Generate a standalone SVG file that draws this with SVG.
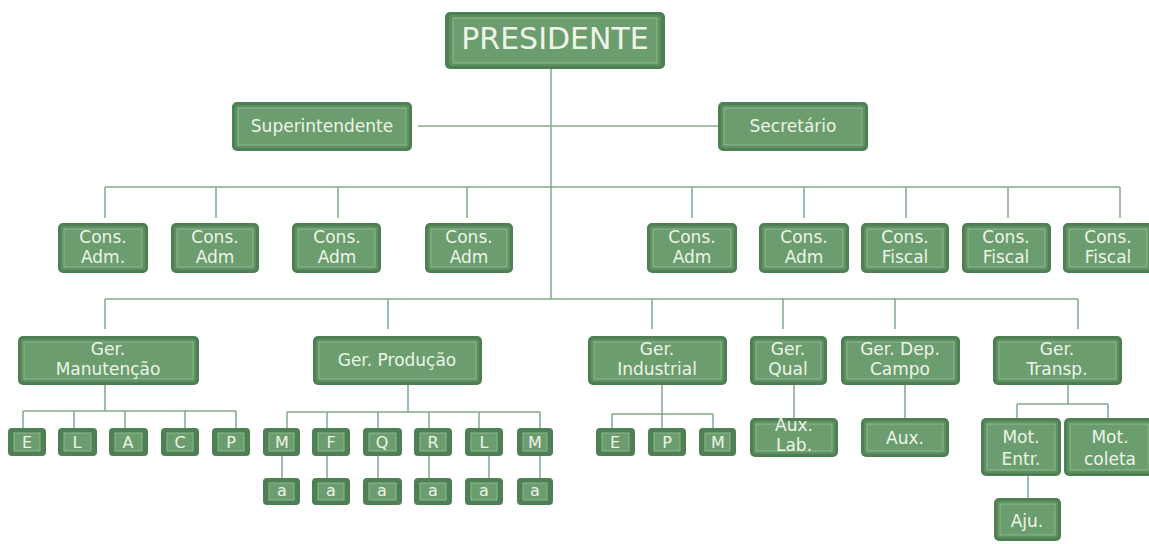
<svg xmlns="http://www.w3.org/2000/svg" width="1149" height="544" viewBox="0 0 1149 544">
<style>
.o{fill:#4f7f55}
.m{fill:#5e9062}
.i{fill:#6b9d6e;stroke:#8cba8e;stroke-width:1}
.t{fill:#eef4e8;font-family:"DejaVu Sans",Verdana,sans-serif;font-size:17px;text-anchor:middle}
.s{font-size:16px}
.b{font-size:30px}
.c{stroke:#82a988;stroke-width:1.5;fill:none}
</style>
<rect width="1149" height="544" fill="#ffffff"/>
<g id="connectors" class="c">
<path d="M551 69V299"/>
<path d="M418 126H718"/>
<path d="M105 187H1120M105 187V218M216 187V218M338 187V218M467 187V218M692 187V218M804 187V218M906 187V218M1008 187V218M1120 187V218"/>
<path d="M105 299H1078M105 299V329M388 299V329M652 299V329M783 299V329M895 299V329M1078 299V329"/>
<path d="M105 385V411M23 411H236M23 411V428M74 411V428M125 411V428M185 411V428M236 411V428"/>
<path d="M408 385V412M287 412H540M287 412V428M327 412V428M378 412V428M429 412V428M479 412V428M540 412V428"/>
<path d="M282 456V478M327 456V478M378 456V478M429 456V478M489 456V478M540 456V478"/>
<path d="M662 385V414M612 414H713M612 414V428M662 414V428M713 414V428"/>
<path d="M794 385V418M905 385V418"/>
<path d="M1068 385V404M1017 404H1108M1017 404V418M1108 404V418"/>
<path d="M1028 476V498"/>
</g>
<g id="presidente"><rect class="o" x="445" y="12" width="220" height="57" rx="5"/><rect class="m" x="449" y="15" width="212" height="51" rx="3"/><rect class="i" x="453" y="18" width="204" height="45"/><text class="t b" x="555" y="49">PRESIDENTE</text></g>
<g id="superintendente"><rect class="o" x="232" y="102" width="180" height="49" rx="5"/><rect class="m" x="235" y="105" width="174" height="43" rx="3"/><rect class="i" x="238" y="108" width="168" height="37"/><text class="t" x="322" y="132">Superintendente</text></g>
<g id="secretario"><rect class="o" x="718" y="102" width="150" height="49" rx="5"/><rect class="m" x="721" y="105" width="144" height="43" rx="3"/><rect class="i" x="724" y="108" width="138" height="37"/><text class="t" x="793" y="132">Secretário</text></g>

<g id="cons1"><rect class="o" x="58" y="223" width="90" height="50" rx="5"/><rect class="m" x="61" y="226" width="84" height="44" rx="3"/><rect class="i" x="64" y="229" width="78" height="38"/><text class="t" x="103" y="243">Cons.</text><text class="t" x="103" y="263">Adm.</text></g>
<g id="cons2"><rect class="o" x="171" y="223" width="88" height="50" rx="5"/><rect class="m" x="174" y="226" width="82" height="44" rx="3"/><rect class="i" x="177" y="229" width="76" height="38"/><text class="t" x="215" y="243">Cons.</text><text class="t" x="215" y="263">Adm</text></g>
<g id="cons3"><rect class="o" x="292" y="223" width="89" height="50" rx="5"/><rect class="m" x="295" y="226" width="83" height="44" rx="3"/><rect class="i" x="298" y="229" width="77" height="38"/><text class="t" x="337" y="243">Cons.</text><text class="t" x="337" y="263">Adm</text></g>
<g id="cons4"><rect class="o" x="425" y="223" width="88" height="50" rx="5"/><rect class="m" x="428" y="226" width="82" height="44" rx="3"/><rect class="i" x="431" y="229" width="76" height="38"/><text class="t" x="469" y="243">Cons.</text><text class="t" x="469" y="263">Adm</text></g>
<g id="cons5"><rect class="o" x="647" y="223" width="90" height="50" rx="5"/><rect class="m" x="650" y="226" width="84" height="44" rx="3"/><rect class="i" x="653" y="229" width="78" height="38"/><text class="t" x="692" y="243">Cons.</text><text class="t" x="692" y="263">Adm</text></g>
<g id="cons6"><rect class="o" x="759" y="223" width="90" height="50" rx="5"/><rect class="m" x="762" y="226" width="84" height="44" rx="3"/><rect class="i" x="765" y="229" width="78" height="38"/><text class="t" x="804" y="243">Cons.</text><text class="t" x="804" y="263">Adm</text></g>
<g id="cons7"><rect class="o" x="861" y="223" width="88" height="50" rx="5"/><rect class="m" x="864" y="226" width="82" height="44" rx="3"/><rect class="i" x="867" y="229" width="76" height="38"/><text class="t" x="905" y="243">Cons.</text><text class="t" x="905" y="263">Fiscal</text></g>
<g id="cons8"><rect class="o" x="962" y="223" width="89" height="50" rx="5"/><rect class="m" x="965" y="226" width="83" height="44" rx="3"/><rect class="i" x="968" y="229" width="77" height="38"/><text class="t" x="1006" y="243">Cons.</text><text class="t" x="1006" y="263">Fiscal</text></g>
<g id="cons9"><rect class="o" x="1063" y="223" width="90" height="50" rx="5"/><rect class="m" x="1066" y="226" width="84" height="44" rx="3"/><rect class="i" x="1069" y="229" width="78" height="38"/><text class="t" x="1108" y="243">Cons.</text><text class="t" x="1108" y="263">Fiscal</text></g>

<g id="ger-manutencao"><rect class="o" x="18" y="336" width="181" height="49" rx="5"/><rect class="m" x="21" y="339" width="175" height="43" rx="3"/><rect class="i" x="24" y="342" width="169" height="37"/><text class="t" x="108" y="355">Ger.</text><text class="t" x="108" y="375">Manutenção</text></g>
<g id="ger-producao"><rect class="o" x="313" y="336" width="169" height="49" rx="5"/><rect class="m" x="316" y="339" width="163" height="43" rx="3"/><rect class="i" x="319" y="342" width="157" height="37"/><text class="t" x="397" y="366">Ger. Produção</text></g>
<g id="ger-industrial"><rect class="o" x="588" y="336" width="139" height="49" rx="5"/><rect class="m" x="591" y="339" width="133" height="43" rx="3"/><rect class="i" x="594" y="342" width="127" height="37"/><text class="t" x="657" y="355">Ger.</text><text class="t" x="657" y="375">Industrial</text></g>
<g id="ger-qual"><rect class="o" x="750" y="336" width="77" height="49" rx="5"/><rect class="m" x="753" y="339" width="71" height="43" rx="3"/><rect class="i" x="756" y="342" width="65" height="37"/><text class="t" x="788" y="355">Ger.</text><text class="t" x="788" y="375">Qual</text></g>
<g id="ger-campo"><rect class="o" x="841" y="336" width="119" height="49" rx="5"/><rect class="m" x="844" y="339" width="113" height="43" rx="3"/><rect class="i" x="847" y="342" width="107" height="37"/><text class="t" x="900" y="355">Ger. Dep.</text><text class="t" x="900" y="375">Campo</text></g>
<g id="ger-transp"><rect class="o" x="993" y="336" width="129" height="49" rx="5"/><rect class="m" x="996" y="339" width="123" height="43" rx="3"/><rect class="i" x="999" y="342" width="117" height="37"/><text class="t" x="1057" y="355">Ger.</text><text class="t" x="1057" y="375">Transp.</text></g>

<g id="m-e"><rect class="o" x="8" y="428" width="38" height="28" rx="4"/><rect class="i" x="14" y="433" width="26" height="18"/><text class="t s" x="27" y="448">E</text></g>
<g id="m-l"><rect class="o" x="58" y="428" width="39" height="28" rx="4"/><rect class="i" x="64" y="433" width="27" height="18"/><text class="t s" x="77" y="448">L</text></g>
<g id="m-a"><rect class="o" x="109" y="428" width="39" height="28" rx="4"/><rect class="i" x="115" y="433" width="27" height="18"/><text class="t s" x="128" y="448">A</text></g>
<g id="m-c"><rect class="o" x="161" y="428" width="38" height="28" rx="4"/><rect class="i" x="167" y="433" width="26" height="18"/><text class="t s" x="180" y="448">C</text></g>
<g id="m-p"><rect class="o" x="212" y="428" width="38" height="28" rx="4"/><rect class="i" x="218" y="433" width="26" height="18"/><text class="t s" x="231" y="448">P</text></g>

<g id="p-m1"><rect class="o" x="263" y="428" width="37" height="28" rx="4"/><rect class="i" x="269" y="433" width="25" height="18"/><text class="t s" x="282" y="448">M</text></g>
<g id="p-f"><rect class="o" x="312" y="428" width="38" height="28" rx="4"/><rect class="i" x="318" y="433" width="26" height="18"/><text class="t s" x="331" y="448">F</text></g>
<g id="p-q"><rect class="o" x="363" y="428" width="39" height="28" rx="4"/><rect class="i" x="369" y="433" width="27" height="18"/><text class="t s" x="382" y="448">Q</text></g>
<g id="p-r"><rect class="o" x="414" y="428" width="38" height="28" rx="4"/><rect class="i" x="420" y="433" width="26" height="18"/><text class="t s" x="433" y="448">R</text></g>
<g id="p-l"><rect class="o" x="465" y="428" width="38" height="28" rx="4"/><rect class="i" x="471" y="433" width="26" height="18"/><text class="t s" x="484" y="448">L</text></g>
<g id="p-m2"><rect class="o" x="517" y="428" width="36" height="28" rx="4"/><rect class="i" x="523" y="433" width="24" height="18"/><text class="t s" x="535" y="448">M</text></g>

<g id="a1"><rect class="o" x="263" y="478" width="37" height="27" rx="4"/><rect class="i" x="269" y="483" width="25" height="17"/><text class="t s" x="282" y="496">a</text></g>
<g id="a2"><rect class="o" x="312" y="478" width="38" height="27" rx="4"/><rect class="i" x="318" y="483" width="26" height="17"/><text class="t s" x="331" y="496">a</text></g>
<g id="a3"><rect class="o" x="363" y="478" width="39" height="27" rx="4"/><rect class="i" x="369" y="483" width="27" height="17"/><text class="t s" x="382" y="496">a</text></g>
<g id="a4"><rect class="o" x="414" y="478" width="38" height="27" rx="4"/><rect class="i" x="420" y="483" width="26" height="17"/><text class="t s" x="433" y="496">a</text></g>
<g id="a5"><rect class="o" x="465" y="478" width="38" height="27" rx="4"/><rect class="i" x="471" y="483" width="26" height="17"/><text class="t s" x="484" y="496">a</text></g>
<g id="a6"><rect class="o" x="517" y="478" width="36" height="27" rx="4"/><rect class="i" x="523" y="483" width="24" height="17"/><text class="t s" x="535" y="496">a</text></g>

<g id="i-e"><rect class="o" x="596" y="428" width="39" height="28" rx="4"/><rect class="i" x="602" y="433" width="27" height="18"/><text class="t s" x="615" y="448">E</text></g>
<g id="i-p"><rect class="o" x="648" y="428" width="38" height="28" rx="4"/><rect class="i" x="654" y="433" width="26" height="18"/><text class="t s" x="667" y="448">P</text></g>
<g id="i-m"><rect class="o" x="699" y="428" width="37" height="28" rx="4"/><rect class="i" x="705" y="433" width="25" height="18"/><text class="t s" x="718" y="448">M</text></g>

<g id="aux-lab"><rect class="o" x="750" y="418" width="88" height="39" rx="5"/><rect class="m" x="753" y="421" width="82" height="33" rx="3"/><rect class="i" x="756" y="424" width="76" height="27"/><text class="t" x="794" y="431">Aux.</text><text class="t" x="794" y="451">Lab.</text></g>
<g id="aux"><rect class="o" x="861" y="418" width="88" height="39" rx="5"/><rect class="m" x="864" y="421" width="82" height="33" rx="3"/><rect class="i" x="867" y="424" width="76" height="27"/><text class="t" x="905" y="444">Aux.</text></g>
<g id="mot-entr"><rect class="o" x="981" y="418" width="80" height="58" rx="5"/><rect class="m" x="984" y="421" width="74" height="52" rx="3"/><rect class="i" x="987" y="424" width="68" height="46"/><text class="t" x="1021" y="443">Mot.</text><text class="t" x="1021" y="465">Entr.</text></g>
<g id="mot-coleta"><rect class="o" x="1064" y="418" width="90" height="58" rx="5"/><rect class="m" x="1067" y="421" width="84" height="52" rx="3"/><rect class="i" x="1070" y="424" width="78" height="46"/><text class="t" x="1110" y="443">Mot.</text><text class="t" x="1110" y="465">coleta</text></g>
<g id="aju"><rect class="o" x="994" y="498" width="67" height="43" rx="5"/><rect class="m" x="997" y="501" width="61" height="37" rx="3"/><rect class="i" x="1000" y="504" width="55" height="31"/><text class="t" x="1027" y="527">Aju.</text></g>
</svg>
